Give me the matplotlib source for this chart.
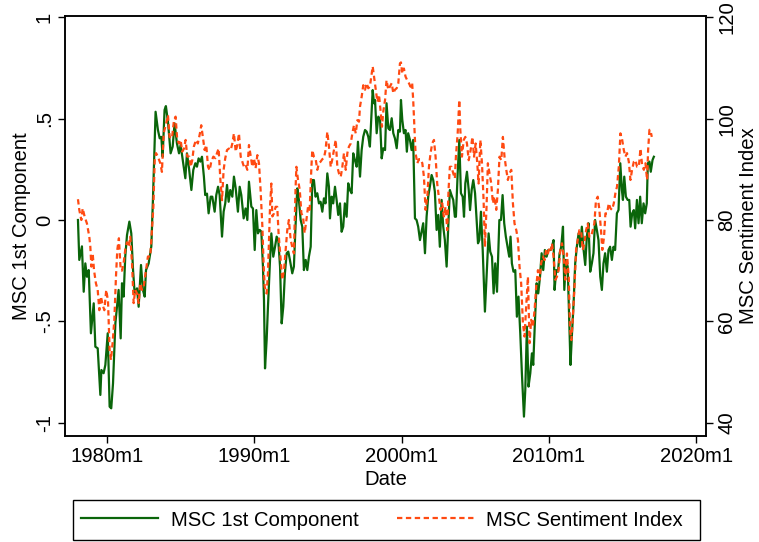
import matplotlib
matplotlib.use("Agg")
import matplotlib.pyplot as plt
from matplotlib.patches import Rectangle

plt.rcParams['font.family'] = ['Liberation Sans Narrow', 'Liberation Sans', 'DejaVu Sans']

# MSC 1st Component (left axis), decimal year / value
green_year = [
    1978.03, 1978.12, 1978.30, 1978.42, 1978.53, 1978.64, 1978.76, 1978.91, 1979.10, 1979.21,
    1979.37, 1979.55, 1979.62, 1979.77, 1979.89, 1980.05, 1980.18, 1980.29, 1980.41, 1980.57,
    1980.79, 1980.93, 1981.02, 1981.13, 1981.24, 1981.36, 1981.52, 1981.65, 1981.77, 1981.88,
    1982.04, 1982.15, 1982.31, 1982.44, 1982.56, 1982.65, 1982.83, 1983.01, 1983.12, 1983.21,
    1983.30, 1983.46, 1983.58, 1983.69, 1983.78, 1983.91, 1984.00,
    1984.14, 1984.32, 1984.46, 1984.59, 1984.75, 1984.89, 1985.00, 1985.16, 1985.32, 1985.43,
    1985.57, 1985.73, 1985.86, 1986.00, 1986.11, 1986.22, 1986.34, 1986.45, 1986.58, 1986.67,
    1986.79, 1986.90, 1987.04, 1987.15, 1987.31, 1987.42, 1987.54, 1987.65, 1987.81, 1987.92,
    1988.03, 1988.15, 1988.26, 1988.37, 1988.51, 1988.62, 1988.74, 1988.89, 1989.01, 1989.12,
    1989.28, 1989.41, 1989.53, 1989.64, 1989.80, 1989.91, 1990.03, 1990.14, 1990.25, 1990.37,
    1990.48, 1990.59,
    1990.66, 1990.73, 1990.84, 1990.93, 1991.07, 1991.16, 1991.29, 1991.41, 1991.52, 1991.63,
    1991.75, 1991.86, 1991.97, 1992.08, 1992.20, 1992.31, 1992.42, 1992.58, 1992.69, 1992.80,
    1992.92, 1993.03, 1993.15, 1993.26, 1993.37, 1993.49, 1993.60, 1993.71, 1993.83, 1993.94,
    1994.05, 1994.16, 1994.28, 1994.39, 1994.50, 1994.62, 1994.73, 1994.84, 1994.96, 1995.07,
    1995.14, 1995.25, 1995.36, 1995.48, 1995.59, 1995.70, 1995.82, 1995.93, 1996.04, 1996.15,
    1996.27, 1996.38, 1996.49, 1996.61, 1996.72, 1996.83, 1996.95, 1997.04,
    1997.18, 1997.29, 1997.40, 1997.52, 1997.63, 1997.74, 1997.85, 1997.97, 1998.04, 1998.13,
    1998.20, 1998.31, 1998.42, 1998.54, 1998.65, 1998.76, 1998.88, 1998.98, 1999.10, 1999.21,
    1999.33, 1999.44, 1999.55, 1999.67, 1999.78, 1999.89, 1999.96, 2000.05, 2000.16, 2000.27,
    2000.36, 2000.45, 2000.57, 2000.68, 2000.79, 2000.91, 2001.02, 2001.13, 2001.25, 2001.36,
    2001.47, 2001.59, 2001.70, 2001.81, 2001.92, 2002.04, 2002.15, 2002.26, 2002.38, 2002.49,
    2002.60, 2002.72, 2002.83, 2002.94, 2003.06, 2003.17, 2003.28, 2003.39, 2003.51, 2003.62,
    2003.69, 2003.81, 2003.92, 2004.03, 2004.15, 2004.24, 2004.33, 2004.44, 2004.56, 2004.65,
    2004.76, 2004.87, 2004.99, 2005.10, 2005.19, 2005.28, 2005.39, 2005.51, 2005.66, 2005.80,
    2005.91, 2006.02, 2006.14, 2006.25, 2006.36, 2006.48, 2006.64, 2006.75, 2006.86, 2006.97,
    2007.08, 2007.20, 2007.31, 2007.40, 2007.49, 2007.60, 2007.72, 2007.83, 2007.94, 2008.06,
    2008.17, 2008.31, 2008.40, 2008.51, 2008.62, 2008.74, 2008.85, 2008.94, 2009.05, 2009.17,
    2009.28, 2009.40, 2009.51, 2009.62, 2009.73, 2009.85, 2009.96, 2010.10,
    2010.21, 2010.32, 2010.39, 2010.50, 2010.62, 2010.73, 2010.84, 2010.96, 2011.05, 2011.16,
    2011.28, 2011.38, 2011.47, 2011.56, 2011.68, 2011.79, 2011.90, 2012.02, 2012.13, 2012.24,
    2012.36, 2012.47, 2012.58, 2012.69, 2012.81, 2012.92, 2013.03, 2013.14, 2013.26, 2013.37,
    2013.49, 2013.60, 2013.71, 2013.82, 2013.94, 2014.05, 2014.16, 2014.28, 2014.39, 2014.50,
    2014.62, 2014.73, 2014.85, 2014.96, 2015.03, 2015.12, 2015.23, 2015.35, 2015.46, 2015.55,
    2015.66, 2015.77, 2015.86, 2015.98, 2016.09, 2016.20, 2016.31, 2016.43, 2016.54, 2016.65,
    2016.72, 2016.83, 2016.92, 2017.04, 2017.13,
]
green_val = [
    0.000, -0.197, -0.130, -0.354, -0.214, -0.280, -0.247, -0.559, -0.411, -0.625,
    -0.633, -0.863, -0.740, -0.756, -0.715, -0.559, -0.921, -0.929, -0.806, -0.510,
    -0.345, -0.584, -0.312, -0.378, -0.181, -0.074, -0.008, -0.066, -0.247, -0.362,
    -0.337, -0.428, -0.222, -0.345, -0.378, -0.247, -0.214, -0.130, 0.099, 0.312,
    0.534, 0.444, 0.403, 0.410, 0.312, 0.543, 0.562,
    0.485, 0.329, 0.362, 0.477, 0.378, 0.329, 0.370, 0.288, 0.206, 0.329,
    0.255, 0.148, 0.247, 0.280, 0.263, 0.304, 0.288, 0.312, 0.214, 0.123,
    0.130, 0.033, 0.115, 0.115, 0.041, 0.123, 0.164, 0.123, -0.082, 0.041,
    0.082, 0.173, 0.090, 0.148, 0.115, 0.214, 0.156, 0.041, 0.164, 0.123,
    0.008, 0.057, 0.000, 0.189, 0.066, 0.057, -0.148, 0.049, -0.066, -0.049,
    -0.057, -0.230,
    -0.395, -0.732, -0.592, -0.428, -0.197, -0.066, -0.181, -0.132, -0.082, -0.099,
    -0.230, -0.510, -0.428, -0.263, -0.164, -0.156, -0.197, -0.263, -0.230, -0.033,
    0.156, 0.099, 0.000, -0.033, -0.247, -0.197, -0.247, -0.181, -0.132, 0.197,
    0.197, 0.115, 0.132, 0.082, 0.090, 0.041, 0.107, 0.082, 0.230, 0.164,
    0.008, 0.115, 0.082, 0.164, 0.099, 0.025, 0.082, -0.058, -0.033, 0.082,
    0.016, 0.181, 0.148, 0.132, 0.329, 0.296, 0.263, 0.386,
    0.214, 0.345, 0.411, 0.444, 0.436, 0.411, 0.362, 0.543, 0.641, 0.576,
    0.592, 0.428, 0.510, 0.494, 0.304, 0.354, 0.345, 0.576, 0.452, 0.444,
    0.502, 0.428, 0.403, 0.354, 0.444, 0.436, 0.592, 0.494, 0.428, 0.444,
    0.337, 0.428, 0.395, 0.345, 0.395, 0.008, 0.000, -0.033, -0.099, -0.058,
    -0.016, -0.164, 0.016, 0.115, 0.164, 0.222, 0.197, 0.140, -0.049, 0.025,
    -0.132, 0.099, -0.033, -0.099, -0.230, -0.033, 0.148, 0.123, 0.099, 0.016,
    0.016, 0.230, 0.395, 0.132, 0.115, 0.016, 0.181, 0.238, 0.148, 0.049,
    0.148, 0.197, 0.132, 0.000, -0.115, -0.099, 0.041, -0.148, -0.452, -0.230,
    -0.066, -0.156, -0.181, -0.362, -0.214, -0.354, 0.000, 0.000, 0.123, -0.016,
    -0.082, -0.132, -0.181, -0.082, -0.214, -0.255, -0.247, -0.477, -0.378, -0.559,
    -0.756, -0.970, -0.839, -0.526, -0.822, -0.756, -0.658, -0.715, -0.510, -0.312,
    -0.362, -0.280, -0.164, -0.247, -0.148, -0.181, -0.148, -0.148,
    -0.132, -0.099, -0.345, -0.247, -0.255, -0.164, -0.132, -0.033, -0.345, -0.197,
    -0.230, -0.477, -0.715, -0.576, -0.411, -0.214, -0.132, -0.066, -0.132, -0.033,
    -0.148, -0.222, -0.082, -0.016, -0.255, -0.214, -0.164, 0.000, -0.049, -0.099,
    -0.280, -0.345, -0.214, -0.164, -0.255, -0.148, -0.132, -0.197, -0.132, -0.148,
    0.033, 0.049, 0.280, 0.148, 0.099, 0.214, 0.115, 0.099, 0.099, -0.033,
    0.033, 0.049, -0.041, 0.099, -0.016, 0.115, -0.016, 0.082, 0.033, 0.082,
    0.280, 0.288, 0.238, 0.296, 0.312,
]

# MSC Sentiment Index (right axis)
index_year = [
    1978.03, 1978.12, 1978.26, 1978.35, 1978.48, 1978.64, 1978.80, 1978.87, 1978.94, 1979.03,
    1979.12, 1979.25, 1979.37, 1979.48, 1979.59, 1979.71, 1979.82, 1979.95, 1980.07, 1980.18,
    1980.27, 1980.38, 1980.50, 1980.61, 1980.70, 1980.81, 1980.93, 1981.02, 1981.13, 1981.24,
    1981.36, 1981.47, 1981.58, 1981.70, 1981.81, 1981.92, 1982.04, 1982.15, 1982.26, 1982.38,
    1982.49, 1982.65, 1982.78, 1982.94, 1983.05, 1983.15, 1983.24, 1983.33, 1983.46, 1983.62,
    1983.73, 1983.85, 1983.96, 1984.07,
    1984.14, 1984.25, 1984.41, 1984.55, 1984.66, 1984.77, 1984.89, 1985.00, 1985.11, 1985.23,
    1985.34, 1985.45, 1985.59, 1985.68, 1985.79, 1985.90, 1986.04, 1986.17, 1986.31, 1986.40,
    1986.52, 1986.63, 1986.74, 1986.86, 1986.97, 1987.08, 1987.22, 1987.36, 1987.47, 1987.58,
    1987.70, 1987.81, 1987.92, 1988.03, 1988.15, 1988.28, 1988.40, 1988.51, 1988.62, 1988.74,
    1988.85, 1988.96, 1989.08, 1989.19, 1989.30, 1989.41, 1989.53, 1989.64, 1989.75, 1989.87,
    1989.98, 1990.09, 1990.21, 1990.32, 1990.43, 1990.55, 1990.64,
    1990.71, 1990.84, 1990.93, 1991.07, 1991.16, 1991.23, 1991.34, 1991.45, 1991.56, 1991.65,
    1991.79, 1991.90, 1992.02, 1992.13, 1992.24, 1992.35, 1992.47, 1992.58, 1992.69, 1992.80,
    1992.86, 1992.97, 1993.09, 1993.20, 1993.31, 1993.42, 1993.54, 1993.65, 1993.76, 1993.88,
    1993.94, 1994.05, 1994.16, 1994.28, 1994.39, 1994.50, 1994.62, 1994.73, 1994.84, 1994.96,
    1995.07, 1995.19, 1995.30, 1995.41, 1995.53, 1995.64, 1995.75, 1995.87, 1995.98, 1996.09,
    1996.21, 1996.32, 1996.43, 1996.55, 1996.66, 1996.77, 1996.89, 1997.00, 1997.11,
    1997.18, 1997.29, 1997.40, 1997.52, 1997.63, 1997.74, 1997.85, 1997.97, 1998.04, 1998.13,
    1998.22, 1998.36, 1998.47, 1998.58, 1998.67, 1998.76, 1998.88, 1998.98, 1999.10, 1999.21,
    1999.33, 1999.44, 1999.55, 1999.67, 1999.78, 1999.89, 1999.96, 2000.05, 2000.16, 2000.27,
    2000.38, 2000.50, 2000.61, 2000.72, 2000.79, 2000.86, 2000.95, 2001.07, 2001.18, 2001.29,
    2001.41, 2001.52, 2001.63, 2001.75, 2001.86, 2001.97, 2002.08, 2002.20, 2002.31, 2002.42,
    2002.53, 2002.65, 2002.76, 2002.87, 2002.99, 2003.10, 2003.19, 2003.28, 2003.39, 2003.51,
    2003.62,
    2003.69, 2003.81, 2003.92, 2003.99, 2004.10, 2004.22, 2004.33, 2004.44, 2004.56, 2004.69,
    2004.81, 2004.92, 2005.03, 2005.14, 2005.23, 2005.35, 2005.46, 2005.57, 2005.66, 2005.77,
    2005.86, 2005.97, 2006.09, 2006.20, 2006.31, 2006.43, 2006.54, 2006.65, 2006.77, 2006.88,
    2006.99, 2007.11, 2007.22, 2007.33, 2007.45, 2007.56, 2007.67, 2007.79, 2007.90, 2008.01,
    2008.12, 2008.24, 2008.35, 2008.46, 2008.58, 2008.69, 2008.80, 2008.92, 2009.03, 2009.14,
    2009.26, 2009.37, 2009.48, 2009.60, 2009.71, 2009.82, 2009.94, 2010.05, 2010.16,
    2010.21, 2010.32, 2010.44, 2010.55, 2010.66, 2010.78, 2010.89, 2011.01, 2011.12, 2011.23,
    2011.35, 2011.44, 2011.53, 2011.62, 2011.73, 2011.85, 2011.96, 2012.07, 2012.19, 2012.30,
    2012.41, 2012.53, 2012.64, 2012.75, 2012.87, 2012.98, 2013.09, 2013.20, 2013.32, 2013.43,
    2013.54, 2013.63, 2013.75, 2013.84, 2013.95, 2014.07, 2014.18, 2014.29, 2014.41, 2014.52,
    2014.63, 2014.75, 2014.86, 2014.98, 2015.09, 2015.20, 2015.31, 2015.43, 2015.54, 2015.65,
    2015.77, 2015.88, 2015.99, 2016.11, 2016.22, 2016.33, 2016.45, 2016.56, 2016.67, 2016.74,
    2016.83, 2016.92, 2016.99,
]
index_val = [
    84.1, 82.0, 80.0, 82.3, 80.7, 79.3, 76.7, 74.7, 70.8, 73.4,
    70.1, 67.5, 66.2, 62.2, 64.9, 63.2, 62.2, 66.2, 64.0, 54.3,
    52.4, 55.7, 60.3, 68.8, 74.1, 76.4, 70.1, 70.0, 71.5, 74.1,
    75.6, 74.7, 76.7, 71.5, 63.6, 66.2, 65.5, 63.6, 67.5, 66.2,
    66.8, 70.1, 72.8, 72.8, 78.0, 82.6, 91.8, 93.2, 92.5, 91.2,
    89.5, 97.1, 98.4, 99.7,
    100.7, 96.4, 96.1, 99.7, 100.4, 95.8, 95.1, 95.8, 93.5, 94.1,
    95.8, 92.5, 92.5, 90.5, 91.8, 94.5, 95.8, 95.1, 97.1, 98.7,
    96.1, 93.8, 94.8, 90.5, 89.8, 91.5, 92.5, 92.2, 93.2, 94.1,
    87.9, 83.9, 89.9, 92.2, 93.8, 94.1, 93.8, 95.1, 97.1, 93.5,
    94.8, 97.1, 92.5, 91.5, 90.5, 90.9, 89.9, 94.8, 92.8, 90.5,
    92.2, 90.2, 92.8, 91.2, 85.9, 78.7, 70.8,
    66.8, 65.5, 69.5, 82.6, 87.2, 80.7, 81.3, 82.6, 82.6, 77.4,
    72.1, 68.2, 70.1, 74.1, 78.0, 80.0, 76.1, 74.7, 73.4, 85.9,
    90.5, 87.9, 85.9, 81.3, 80.7, 77.4, 80.0, 82.6, 82.0, 90.5,
    93.8, 92.5, 92.2, 89.9, 91.2, 91.5, 92.0, 92.2, 93.8, 97.4,
    94.5, 90.5, 92.0, 93.8, 95.8, 90.5, 89.2, 88.5, 90.5, 93.2,
    89.9, 93.2, 94.5, 95.1, 97.1, 98.7, 97.1, 99.7, 99.4,
    102.4, 104.3, 106.6, 105.7, 107.0, 106.0, 106.3, 108.9, 110.3, 108.3,
    106.3, 103.3, 104.7, 101.4, 98.4, 101.4, 103.7, 107.6, 105.7, 106.3,
    107.0, 105.0, 105.7, 106.0, 107.0, 110.9, 111.1, 108.9, 109.9, 108.3,
    107.6, 107.0, 106.3, 107.0, 103.7, 99.1, 93.2, 91.2, 92.0, 92.0,
    91.2, 88.5, 82.0, 84.6, 90.5, 93.2, 95.1, 95.8, 92.5, 87.2,
    84.6, 82.0, 83.3, 80.7, 82.6, 78.0, 85.9, 90.5, 90.5, 89.2,
    88.2,
    92.5, 97.1, 103.7, 97.8, 92.5, 95.8, 96.4, 95.1, 91.8, 93.8,
    96.4, 92.5, 95.1, 91.2, 87.2, 95.8, 91.2, 83.9, 74.7, 82.6,
    91.2, 89.2, 87.2, 83.3, 84.6, 82.0, 85.9, 92.5, 91.8, 96.4,
    92.5, 89.9, 87.9, 89.2, 89.9, 83.3, 79.3, 78.0, 76.1, 70.8,
    67.5, 59.6, 57.0, 62.9, 68.8, 55.7, 60.3, 58.9, 62.2, 66.8,
    70.1, 68.2, 71.5, 72.8, 72.1, 74.1, 73.4, 74.7, 74.1,
    75.4, 72.8, 68.2, 68.8, 70.1, 74.1, 75.4, 72.8, 68.2, 73.4,
    68.8, 58.3, 56.3, 60.3, 66.2, 74.1, 76.1, 78.0, 78.0, 74.1,
    75.4, 78.0, 79.3, 76.7, 76.7, 78.0, 79.3, 83.9, 84.6, 82.0,
    78.0, 74.1, 76.7, 81.3, 81.3, 83.3, 82.3, 82.0, 83.3, 85.3,
    86.6, 90.5, 97.1, 95.8, 93.8, 92.5, 93.2, 91.5, 87.9, 89.9,
    91.5, 91.8, 90.5, 90.5, 94.1, 90.9, 89.9, 91.2, 87.9, 93.8,
    97.8, 97.4, 96.4,
]

x_ticks = [1980, 1990, 2000, 2010, 2020]
x_labels = ['1980m1', '1990m1', '2000m1', '2010m1', '2020m1']
left_ticks = [-1, -0.5, 0, 0.5, 1]
left_labels = ['-1', '-.5', '0', '.5', '1']
right_ticks = [40, 60, 80, 100, 120]

green = '#0a650a'
orange = '#ff4a12'
fs = 14.6

fig = plt.figure(figsize=(7.59, 5.42), dpi=100)
ax = fig.add_axes([65 / 759, 1 - 436 / 542, 641 / 759, 420 / 542])
l1, = ax.plot(green_year, green_val, color=green, lw=1.6)
ax.set_xlim(1977.15, 2020.67)
ax.set_ylim(-1.0656, 1.0064)
ax.set_xticks(x_ticks)
ax.set_xticklabels(x_labels, fontsize=fs)
ax.set_yticks(left_ticks)
ax.set_yticklabels(left_labels, fontsize=fs, rotation=90, va='center')
ax.set_xlabel('Date', fontsize=fs, labelpad=3)
ax.set_ylabel('MSC 1st Component', fontsize=fs, labelpad=3)

ax2 = ax.twinx()
l2, = ax2.plot(index_year, index_val, color=orange, lw=1.6, ls=(0, (2.4, 1.6)))
ax2.set_ylim(80 + 40 * -1.0656, 80 + 40 * 1.0064)
ax2.set_yticks(right_ticks)
ax2.set_yticklabels([str(t) for t in right_ticks], fontsize=fs, rotation=90, va='center')
ax2.set_ylabel('MSC Sentiment Index', fontsize=fs, labelpad=2)

for a in (ax, ax2):
    a.tick_params(length=5, width=1, color='black', pad=3)
    for s in a.spines.values():
        s.set_linewidth(1.1)
        s.set_color('black')

# legend box drawn separately so the entries can sit like Stata's
fig.patches.append(Rectangle((73 / 759, 1 - 540 / 542), 627 / 759, 40 / 542,
                             transform=fig.transFigure, fill=False,
                             edgecolor='black', linewidth=1.0))
fig.legend([l1, l2], ['MSC 1st Component', 'MSC Sentiment Index'],
           loc='center', ncol=2, fontsize=fs, frameon=False,
           bbox_to_anchor=(382 / 759, 1 - 520 / 542),
           handlelength=3.8, handletextpad=0.6, columnspacing=1.9)

fig.savefig('out.png', dpi=100)
